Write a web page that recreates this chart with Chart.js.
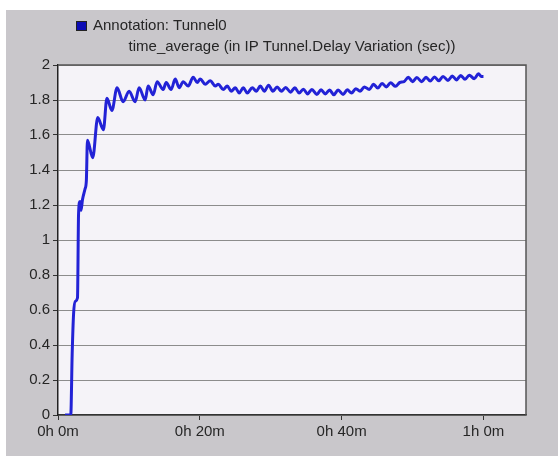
<!DOCTYPE html>
<html lang="en">
<head>
  <meta charset="UTF-8" />
  <title>Tunnel delay variation</title>
  <script src="https://cdn.jsdelivr.net/npm/chart.js"></script>
  <style>
    html, body { margin: 0; padding: 0; background: #fff; }
    #panel {
      position: absolute;
      left: 6px; top: 10px;
      width: 552px; height: 446px;
      background: #c9c7cb;
    }
    canvas { display: block; }
  </style>
</head>
<body>

<div id="panel">
  <canvas id="delayChart" width="552" height="446"></canvas>
</div>

<script>
  // sim time in minutes
  const minutes = [
    1.0, 1.8, 2.0, 2.2, 2.45, 2.75, 2.9, 3.1, 3.25, 3.45, 3.8, 4.0, 4.15, 4.9, 5.6, 6.4, 6.9, 7.6, 8.33,
    9.18, 10.03, 10.88, 11.44, 12.29, 12.71, 13.42, 13.98, 14.83, 15.25, 15.96, 16.53, 17.09, 17.66, 18.36,
    19.07, 19.63, 20.06, 20.76, 21.47, 22.18, 22.6, 23.3, 23.87, 24.43, 25.0, 25.56, 26.13, 26.69, 27.4,
    27.97, 28.53, 29.1, 29.7,
    30.3, 30.9, 31.5, 32.1, 32.8, 33.4, 34.0, 34.6, 35.2, 35.8, 36.5, 37.1, 37.7, 38.3, 38.9, 39.5, 40.2,
    40.8, 41.4, 42.0, 42.6, 43.2, 43.9, 44.5, 45.1, 45.7, 46.3, 46.9, 47.6, 48.2, 48.8, 49.4, 50.0, 50.6,
    51.3, 51.9, 52.5, 53.1, 53.7, 54.3, 55.0, 55.6, 56.2, 56.8, 57.4, 58.0, 58.7, 59.3, 59.7, 60.0
  ];

  // time_average of IP Tunnel delay variation (sec)
  const delayVariation = [
    0, 0, 0.35, 0.58, 0.65, 0.67, 1.15, 1.22, 1.17, 1.23, 1.29, 1.34, 1.57, 1.47, 1.70, 1.63, 1.81, 1.74, 1.87,
    1.79, 1.85, 1.79, 1.87, 1.80, 1.88, 1.83, 1.905, 1.86, 1.90, 1.86, 1.92, 1.87, 1.905, 1.88,
    1.93, 1.90, 1.92, 1.89, 1.91, 1.88, 1.89, 1.86, 1.88, 1.85, 1.87, 1.84, 1.87, 1.84, 1.87,
    1.85, 1.88, 1.85, 1.885,
    1.85, 1.875, 1.85, 1.872, 1.845, 1.87, 1.84, 1.862, 1.835, 1.86, 1.832, 1.858, 1.835, 1.857, 1.83, 1.857, 1.832,
    1.858, 1.84, 1.865, 1.85, 1.875, 1.86, 1.89, 1.868, 1.895, 1.875, 1.898, 1.878, 1.9, 1.905, 1.93, 1.905, 1.928,
    1.905, 1.93, 1.908, 1.932, 1.91, 1.935, 1.912, 1.937, 1.915, 1.94, 1.918, 1.942, 1.922, 1.95, 1.935, 1.935
  ];

  const xTickValues = [0, 20, 40, 60];
  const xTickLabels = ['0h 0m', '0h 20m', '0h 40m', '1h 0m'];
  const yTickLabels = ['0', '0.2', '0.4', '0.6', '0.8', '1', '1.2', '1.4', '1.6', '1.8', '2'];

  const seriesName = 'Annotation: Tunnel0';
  const chartTitle = 'time_average (in IP Tunnel.Delay Variation (sec))';
  const lineColor = '#2222d6';
  const fontFamily = '"Liberation Sans", Arial, sans-serif';
  const textColor = '#262626';

  const points = minutes.map((m, i) => ({ x: m, y: delayVariation[i] }));

  // light plot background + dark frame around it
  const plotFrame = {
    id: 'plotFrame',
    beforeDraw(chart) {
      const { ctx, chartArea: a } = chart;
      ctx.save();
      ctx.fillStyle = '#f5f3f8';
      ctx.fillRect(a.left, a.top, a.right - a.left, a.bottom - a.top);
      ctx.restore();
    },
    afterDatasetsDraw(chart) {
      const { ctx, chartArea: a } = chart;
      ctx.save();
      ctx.strokeStyle = '#555';
      ctx.lineWidth = 1.5;
      ctx.beginPath();
      ctx.moveTo(a.left, a.top);
      ctx.lineTo(a.right, a.top);
      ctx.lineTo(a.right, a.bottom);
      ctx.stroke();
      ctx.restore();
    }
  };

  // single-entry legend in the top left corner
  const cornerLegend = {
    id: 'cornerLegend',
    afterDraw(chart) {
      const { ctx } = chart;
      const ds = chart.data.datasets[0];
      ctx.save();
      ctx.fillStyle = '#0c0cb4';
      ctx.fillRect(70, 11, 11, 10);
      ctx.strokeStyle = '#222';
      ctx.lineWidth = 1;
      ctx.strokeRect(70.5, 11.5, 10, 9);
      ctx.fillStyle = textColor;
      ctx.font = '15px ' + fontFamily;
      ctx.textBaseline = 'middle';
      ctx.fillText(ds.label, 87, 16);
      ctx.restore();
    }
  };

  new Chart(document.getElementById('delayChart'), {
    type: 'line',
    data: {
      datasets: [{
        label: seriesName,
        data: points,
        borderColor: lineColor,
        backgroundColor: lineColor,
        borderWidth: 3,
        pointRadius: 0,
        cubicInterpolationMode: 'monotone',
        fill: false
      }]
    },
    options: {
      responsive: false,
      animation: false,
      layout: { padding: { top: 20, right: 32, left: 0, bottom: 0 } },
      plugins: {
        legend: { display: false },
        tooltip: { enabled: false },
        title: {
          display: true,
          text: chartTitle,
          fullSize: false,
          color: textColor,
          font: { family: fontFamily, size: 15, weight: 'normal' },
          padding: { top: 8, bottom: 9 }
        }
      },
      scales: {
        x: {
          type: 'linear',
          min: 0,
          max: 66,
          afterFit: s => { s.height = 41; },
          afterBuildTicks: s => { s.ticks = xTickValues.map(v => ({ value: v })); },
          ticks: {
            color: textColor,
            font: { family: fontFamily, size: 15 },
            padding: 3,
            maxRotation: 0,
            callback: (v) => xTickLabels[xTickValues.indexOf(v)]
          },
          grid: {
            drawOnChartArea: false,
            drawTicks: true,
            tickLength: 5,
            color: '#333'
          },
          border: { color: '#333', width: 1.5 }
        },
        y: {
          min: 0,
          max: 2,
          afterFit: s => { s.width = 52; },
          ticks: {
            stepSize: 0.2,
            color: textColor,
            font: { family: fontFamily, size: 15 },
            padding: 3,
            callback: (v, i) => yTickLabels[i]
          },
          grid: {
            color: '#8c8c8c',
            lineWidth: 1,
            tickLength: 5,
            tickColor: '#333'
          },
          border: { color: '#222', width: 1.5 }
        }
      }
    },
    plugins: [plotFrame, cornerLegend]
  });
</script>

</body>
</html>
